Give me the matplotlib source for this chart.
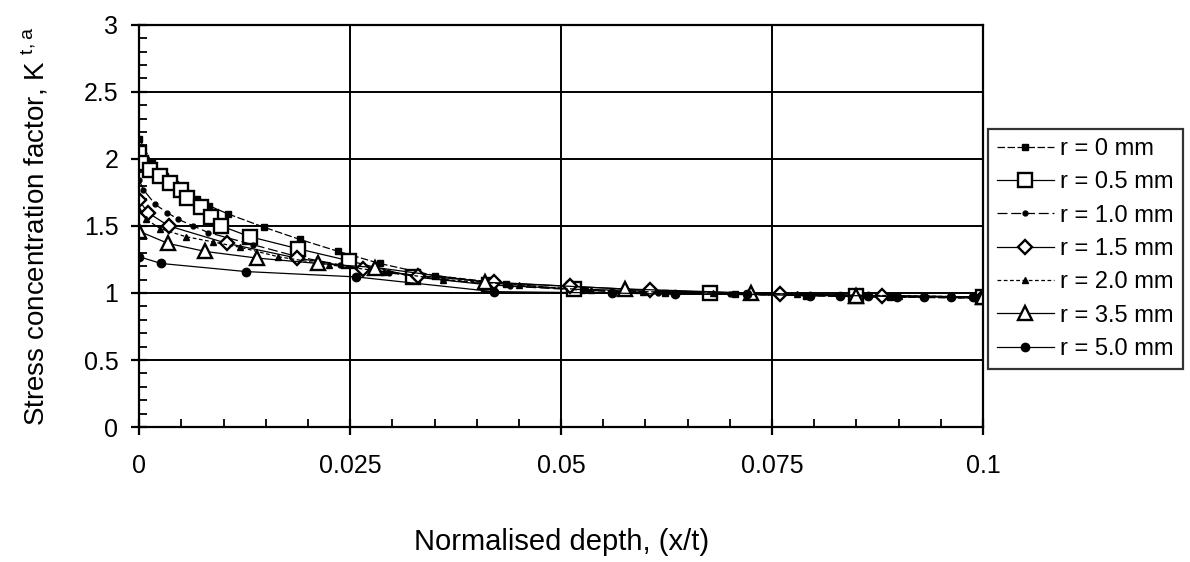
import matplotlib.pyplot as plt
from matplotlib.ticker import MultipleLocator, FixedFormatter, FixedLocator

plt.rcParams['font.family'] = ['Liberation Sans', 'DejaVu Sans']

# Data
r0_x = [0, 0.0015, 0.003, 0.0042, 0.0054, 0.0068, 0.0083, 0.0105, 0.0148, 0.019, 0.0236,
        0.0285, 0.035, 0.0435, 0.0525, 0.0623, 0.0706, 0.079, 0.089, 0.1]
r0_y = [2.15, 1.97, 1.87, 1.81, 1.75, 1.70, 1.65, 1.59, 1.49, 1.40, 1.31,
        1.22, 1.13, 1.07, 1.02, 1.00, 0.99, 0.98, 0.97, 0.96]

r05_x = [0, 0.0002, 0.0013, 0.0025, 0.0036, 0.005, 0.0057, 0.0073, 0.0085, 0.0097, 0.0131,
         0.0188, 0.0249, 0.0325, 0.0415, 0.0515, 0.0677, 0.085, 0.1]
r05_y = [2.04, 1.97, 1.92, 1.87, 1.82, 1.77, 1.71, 1.64, 1.57, 1.50, 1.42,
         1.33, 1.24, 1.12, 1.06, 1.03, 1.00, 0.98, 0.97]

r10_x = [0, 0.0005, 0.0019, 0.0033, 0.0046, 0.0064, 0.0082, 0.0135, 0.0188, 0.0238,
         0.0296, 0.036, 0.044, 0.053, 0.0615, 0.07, 0.0795, 0.0865, 0.093, 0.1]
r10_y = [1.84, 1.77, 1.66, 1.60, 1.55, 1.50, 1.45, 1.36, 1.27, 1.21,
         1.15, 1.10, 1.05, 1.02, 1.00, 0.99, 0.98, 0.97, 0.97, 0.96]

r15_x = [0, 0.001, 0.0035, 0.0104, 0.0187, 0.0265, 0.033, 0.042, 0.051, 0.0605, 0.076, 0.088, 0.1]
r15_y = [1.69, 1.60, 1.50, 1.37, 1.26, 1.18, 1.13, 1.08, 1.05, 1.02, 0.99, 0.98, 0.97]

r20_x = [0, 0.0008, 0.0025, 0.0055, 0.0088, 0.012, 0.0165, 0.0225, 0.029, 0.036, 0.045,
         0.0535, 0.0597, 0.068, 0.078, 0.09, 0.1]
r20_y = [1.62, 1.55, 1.48, 1.42, 1.38, 1.34, 1.27, 1.21, 1.16, 1.10, 1.06,
         1.02, 1.01, 1.00, 0.99, 0.98, 0.97]

r35_x = [0, 0.0034, 0.0078, 0.014, 0.0212, 0.028, 0.041, 0.0576, 0.0725, 0.085, 0.1]
r35_y = [1.46, 1.37, 1.31, 1.26, 1.22, 1.19, 1.08, 1.03, 1.00, 0.98, 0.97]

r50_x = [0, 0.0026, 0.0126, 0.0257, 0.042, 0.056, 0.0635, 0.072, 0.0795, 0.083, 0.0864,
         0.0898, 0.093, 0.0962, 0.0988]
r50_y = [1.27, 1.22, 1.16, 1.12, 1.01, 1.00, 0.99, 0.99, 0.98, 0.98, 0.98,
         0.97, 0.97, 0.97, 0.97]

labels = ['r = 0 mm', 'r = 0.5 mm', 'r = 1.0 mm', 'r = 1.5 mm',
          'r = 2.0 mm', 'r = 3.5 mm', 'r = 5.0 mm']
x_ticks = [0, 0.025, 0.05, 0.075, 0.1]
x_ticklabels = ['0', '0.025', '0.05', '0.075', '0.1']
y_ticks = [0, 0.5, 1, 1.5, 2, 2.5, 3]
y_ticklabels = ['0', '0.5', '1', '1.5', '2', '2.5', '3']

fig = plt.figure(figsize=(11.9, 5.62), dpi=100)
ax = fig.add_axes([0.117, 0.240, 0.709, 0.716])

# series styles: marker, size, filled, linestyle
ax.plot(r0_x, r0_y, color='black', lw=0.9, ls=(0, (6, 2)), marker='s', ms=5,
        mfc='black', mec='black', label=labels[0])
ax.plot(r05_x, r05_y, color='black', lw=0.9, marker='s', ms=9.5, mfc='white',
        mec='black', mew=1.7, label=labels[1])
ax.plot(r10_x, r10_y, color='black', lw=0.9, ls=(0, (8, 3)), marker='o', ms=3.5,
        mfc='black', mec='black', label=labels[2])
ax.plot(r15_x, r15_y, color='black', lw=0.9, marker='D', ms=7.5, mfc='white',
        mec='black', mew=1.7, label=labels[3])
ax.plot(r20_x, r20_y, color='black', lw=0.9, ls=(0, (3, 2)), marker='^', ms=4,
        mfc='black', mec='black', label=labels[4])
ax.plot(r35_x, r35_y, color='black', lw=0.9, marker='^', ms=10.5, mfc='white',
        mec='black', mew=1.7, label=labels[5])
ax.plot(r50_x, r50_y, color='black', lw=0.9, marker='o', ms=6,
        mfc='black', mec='black', label=labels[6])

ax.set_xlim(0, 0.1)
ax.set_ylim(0, 3)
ax.xaxis.set_major_locator(FixedLocator(x_ticks))
ax.xaxis.set_major_formatter(FixedFormatter(x_ticklabels))
ax.yaxis.set_major_locator(FixedLocator(y_ticks))
ax.yaxis.set_major_formatter(FixedFormatter(y_ticklabels))
ax.xaxis.set_minor_locator(MultipleLocator(0.005))
ax.yaxis.set_minor_locator(MultipleLocator(0.1))

ax.grid(True, which='major', color='black', lw=1.4)
ax.set_axisbelow(True)
for s in ax.spines.values():
    s.set_linewidth(1.6)
    s.set_color('black')

ax.tick_params(which='major', direction='inout', length=12, width=1.6,
               labelsize=18, pad=9, top=False, right=False)
ax.tick_params(which='minor', direction='in', length=6, width=1.3,
               top=False, right=False)
ax.tick_params(axis='x', which='major', pad=13)

ax.set_xlabel('Normalised depth, (x/t)', fontsize=21, labelpad=36)
ax.set_ylabel('Stress concentration factor, K $^{\\mathregular{t,a}}$', fontsize=20,
              labelpad=24)

leg = fig.legend(loc='center left', bbox_to_anchor=(0.830, 0.557), fontsize=17,
                 frameon=True, fancybox=False, edgecolor='black', handlelength=2.4,
                 handletextpad=0.25, labelspacing=0.48, borderpad=0.4,
                 borderaxespad=0)
leg.get_frame().set_linewidth(1.6)

fig.savefig('out.png', dpi=100)
